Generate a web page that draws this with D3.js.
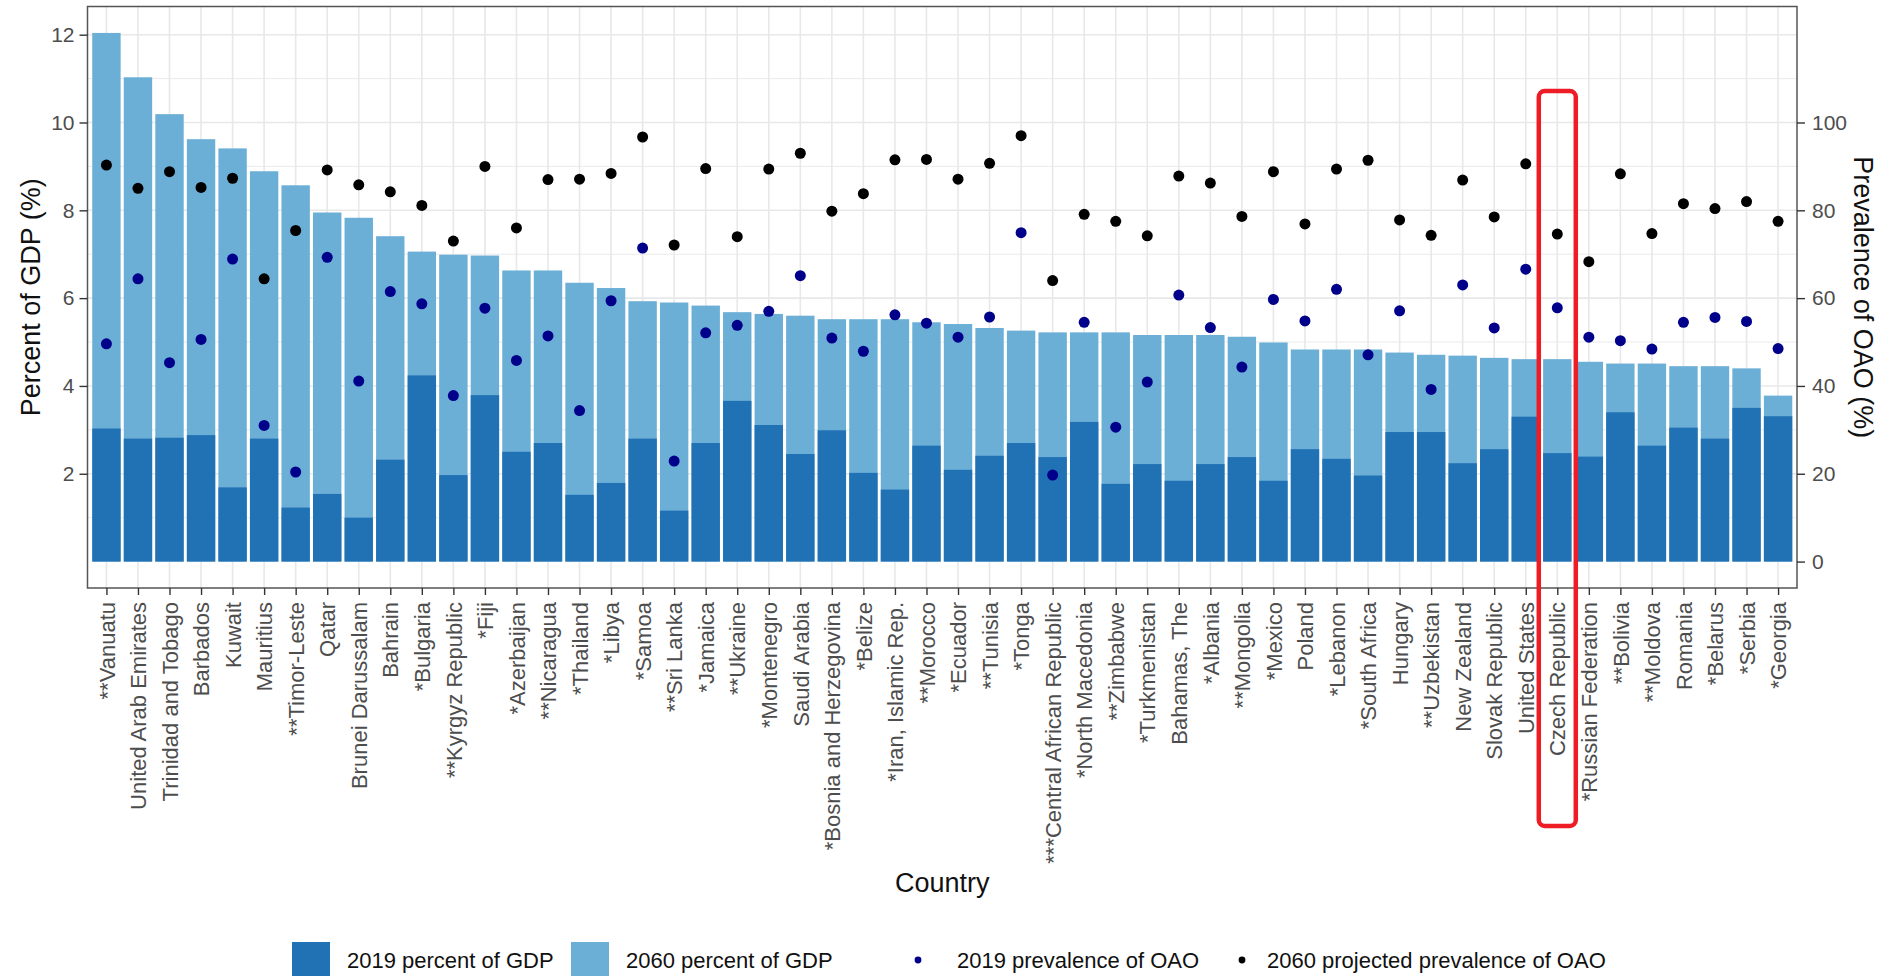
<!DOCTYPE html>
<html>
<head>
<meta charset="utf-8">
<script src="https://cdn.jsdelivr.net/npm/d3@7"></script>
<style>
  body { margin: 0; background: #fff; }
  svg { display: block; font-family: "Liberation Sans", Arial, sans-serif; }
</style>
</head>
<body>
<div id="chart"></div>
<script>
const countries = ["**Vanuatu", "United Arab Emirates", "Trinidad and Tobago", "Barbados", "Kuwait", "Mauritius",
    "**Timor-Leste", "Qatar", "Brunei Darussalam", "Bahrain", "*Bulgaria", "**Kyrgyz Republic", "*Fiji",
    "*Azerbaijan", "**Nicaragua", "*Thailand", "*Libya", "*Samoa", "**Sri Lanka", "*Jamaica", "**Ukraine",
    "*Montenegro", "Saudi Arabia", "*Bosnia and Herzegovina", "*Belize", "*Iran, Islamic Rep.", "**Morocco",
    "*Ecuador", "**Tunisia", "*Tonga", "***Central African Republic", "*North Macedonia", "**Zimbabwe",
    "*Turkmenistan", "Bahamas, The", "*Albania", "**Mongolia", "*Mexico", "Poland", "*Lebanon", "*South Africa",
    "Hungary", "**Uzbekistan", "New Zealand", "Slovak Republic", "United States", "Czech Republic",
    "*Russian Federation", "**Bolivia", "**Moldova", "Romania", "*Belarus", "*Serbia", "*Georgia"];

// percent of GDP
const gdp2019 = [3.03, 2.80, 2.82, 2.88, 1.69, 2.80, 1.23, 1.54, 1.00, 2.32, 4.24, 1.97, 3.79, 2.50, 2.70, 1.52, 1.79,
    2.80, 1.16, 2.70, 3.66, 3.11, 2.45, 2.99, 2.02, 1.64, 2.64, 2.09, 2.41, 2.70, 2.38, 3.18, 1.77, 2.22, 1.84, 2.22,
    2.38, 1.84, 2.56, 2.34, 1.96, 2.95, 2.95, 2.24, 2.56, 3.30, 2.47, 2.39, 3.40, 2.64, 3.05, 2.80, 3.50, 3.31];
const gdp2060 = [12.04, 11.03, 10.19, 9.62, 9.41, 8.89, 8.57, 7.95, 7.83, 7.41, 7.06, 6.99, 6.97, 6.63, 6.63, 6.35,
    6.23, 5.93, 5.90, 5.83, 5.68, 5.64, 5.60, 5.52, 5.52, 5.52, 5.45, 5.41, 5.32, 5.26, 5.22, 5.22, 5.22, 5.16, 5.16,
    5.16, 5.12, 4.99, 4.83, 4.83, 4.83, 4.76, 4.71, 4.69, 4.64, 4.61, 4.61, 4.55, 4.51, 4.51, 4.45, 4.45, 4.40, 3.78];

// prevalence of OAO (%)
const prev2019 = [49.6, 64.4, 45.3, 50.6, 68.9, 31.0, 20.4, 69.3, 41.1, 61.5, 58.7, 37.8, 57.7, 45.8, 51.4, 34.4,
    59.4, 71.4, 22.9, 52.1, 53.8, 57.0, 65.1, 50.9, 47.9, 56.2, 54.3, 51.1, 55.7, 74.9, 19.7, 54.5, 30.6, 40.9, 60.7,
    53.3, 44.3, 59.7, 54.8, 62.0, 47.1, 57.1, 39.2, 63.0, 53.2, 66.6, 57.8, 51.1, 50.3, 48.4, 54.5, 55.6, 54.7, 48.5];
const prev2060 = [90.3, 85.0, 88.8, 85.2, 87.3, 64.4, 75.4, 89.2, 85.8, 84.2, 81.1, 73.0, 90.0, 76.0, 87.0, 87.1,
    88.4, 96.7, 72.1, 89.5, 74.0, 89.4, 93.0, 79.8, 83.8, 91.5, 91.6, 87.1, 90.7, 97.0, 64.0, 79.1, 77.5, 74.2, 87.8,
    86.2, 78.6, 88.8, 76.9, 89.4, 91.4, 77.8, 74.3, 86.9, 78.5, 90.6, 74.6, 68.3, 88.3, 74.7, 81.5, 80.4, 82.0, 77.5];

const leftTicks = [2, 4, 6, 8, 10, 12];
const rightTicks = [0, 20, 40, 60, 80, 100];
const highlighted = "Czech Republic";

const legendItems = [
    { label: "2019 percent of GDP", kind: "rect", color: "#2171b5", keyX: 311, textX: 347 },
    { label: "2060 percent of GDP", kind: "rect", color: "#6baed6", keyX: 590, textX: 626 },
    { label: "2019 prevalence of OAO", kind: "dot", color: "#00008b", keyX: 918, textX: 957 },
    { label: "2060 projected prevalence of OAO", kind: "dot", color: "#000000", keyX: 1242, textX: 1267 }
];

const width = 1882, height = 976;
const panel = { left: 87.5, right: 1797, top: 6.5, bottom: 588 };

const svg = d3.select('#chart').append('svg')
    .attr('width', width)
    .attr('height', height)
    .attr('viewBox', [0, 0, width, height]);

// discrete x like ggplot: 0.6 step of room on each side
const x = d3.scalePoint()
    .domain(countries)
    .range([panel.left, panel.right])
    .padding(0.6);
const barW = x.step() * 0.9;

const yMax = d3.max(gdp2060);
const y = d3.scaleLinear()
    .domain([-yMax * 0.05, yMax * 1.05])
    .range([panel.bottom, panel.top]);
// secondary axis is the primary times ten
const y2 = d3.scaleLinear()
    .domain(y.domain().map(d => d * 10))
    .range(y.range());

// grid
const grid = svg.append('g').attr('stroke', '#e8e8e8');
grid.selectAll('.hgrid')
    .data(d3.range(1, 13))
    .join('line')
    .attr('x1', panel.left)
    .attr('x2', panel.right)
    .attr('y1', d => y(d))
    .attr('y2', d => y(d))
    .attr('stroke-width', d => d % 2 === 0 ? 1.6 : 0.9);
grid.selectAll('.vgrid')
    .data(countries)
    .join('line')
    .attr('x1', d => x(d))
    .attr('x2', d => x(d))
    .attr('y1', panel.top)
    .attr('y2', panel.bottom)
    .attr('stroke-width', 1.6);

// bars: 2060 behind, 2019 in front
svg.append('g')
    .attr('fill', '#6baed6')
    .selectAll('rect')
    .data(countries)
    .join('rect')
    .attr('x', d => x(d) - barW / 2)
    .attr('width', barW)
    .attr('y', (d, i) => y(gdp2060[i]))
    .attr('height', (d, i) => y(0) - y(gdp2060[i]));

svg.append('g')
    .attr('fill', '#2171b5')
    .selectAll('rect')
    .data(countries)
    .join('rect')
    .attr('x', d => x(d) - barW / 2)
    .attr('width', barW)
    .attr('y', (d, i) => y(gdp2019[i]))
    .attr('height', (d, i) => y(0) - y(gdp2019[i]));

// points
svg.append('g')
    .attr('fill', '#00008b')
    .selectAll('circle')
    .data(countries)
    .join('circle')
    .attr('cx', d => x(d))
    .attr('cy', (d, i) => y2(prev2019[i]))
    .attr('r', 5.5);

svg.append('g')
    .attr('fill', '#000')
    .selectAll('circle')
    .data(countries)
    .join('circle')
    .attr('cx', d => x(d))
    .attr('cy', (d, i) => y2(prev2060[i]))
    .attr('r', 5.5);

svg.append('rect')
    .attr('x', panel.left)
    .attr('y', panel.top)
    .attr('width', panel.right - panel.left)
    .attr('height', panel.bottom - panel.top)
    .attr('fill', 'none')
    .attr('stroke', '#555')
    .attr('stroke-width', 1.5);

const styleAxis = g => {
    g.select('.domain').remove();
    g.selectAll('.tick line').attr('stroke', '#333').attr('stroke-width', 1.4);
    g.selectAll('.tick text')
        .attr('fill', '#4d4d4d')
        .style('font-size', '21px')
        .style('font-family', '"Liberation Sans", Arial, sans-serif');
};

svg.append('g')
    .attr('transform', `translate(${panel.left},0)`)
    .call(d3.axisLeft(y).tickValues(leftTicks).tickSize(8).tickPadding(5))
    .call(styleAxis);

svg.append('g')
    .attr('transform', `translate(${panel.right},0)`)
    .call(d3.axisRight(y2).tickValues(rightTicks).tickSize(8).tickPadding(7))
    .call(styleAxis);

svg.append('g')
    .attr('transform', `translate(0,${panel.bottom})`)
    .call(d3.axisBottom(x).tickSize(7))
    .call(styleAxis)
    .call(g => g.selectAll('.tick text')
        .style('font-size', '22px')
        .attr('transform', 'rotate(-90)')
        .attr('text-anchor', 'end')
        .attr('x', -14)
        .attr('y', 0)
        .attr('dy', '0.35em'));

// axis titles
svg.append('text')
    .attr('transform', `translate(40,${(panel.top + panel.bottom) / 2}) rotate(-90)`)
    .attr('text-anchor', 'middle')
    .attr('fill', '#111')
    .style('font-size', '27px')
    .text('Percent of GDP (%)');

svg.append('text')
    .attr('transform', `translate(1854,${(panel.top + panel.bottom) / 2}) rotate(90)`)
    .attr('text-anchor', 'middle')
    .attr('fill', '#111')
    .style('font-size', '27px')
    .text('Prevalence of OAO (%)');

svg.append('text')
    .attr('x', (panel.left + panel.right) / 2)
    .attr('y', 892)
    .attr('text-anchor', 'middle')
    .attr('fill', '#111')
    .style('font-size', '27px')
    .text('Country');

// legend
const legend = svg.append('g');
legendItems.forEach(item => {
    if (item.kind === 'rect') {
        legend.append('rect')
            .attr('x', item.keyX - 19)
            .attr('y', 942)
            .attr('width', 38)
            .attr('height', 38)
            .attr('fill', item.color);
    } else {
        legend.append('circle')
            .attr('cx', item.keyX)
            .attr('cy', 960)
            .attr('r', 3.4)
            .attr('fill', item.color);
    }
    legend.append('text')
        .attr('x', item.textX)
        .attr('y', 960)
        .attr('dy', '0.35em')
        .attr('fill', '#111')
        .style('font-size', '22px')
        .text(item.label);
});

// red highlight box
svg.append('rect')
    .attr('x', x(highlighted) - 18.5)
    .attr('y', 91)
    .attr('width', 37)
    .attr('height', 735)
    .attr('rx', 6)
    .attr('fill', 'none')
    .attr('stroke', '#ee1c25')
    .attr('stroke-width', 4.5);
</script>
</body>
</html>
